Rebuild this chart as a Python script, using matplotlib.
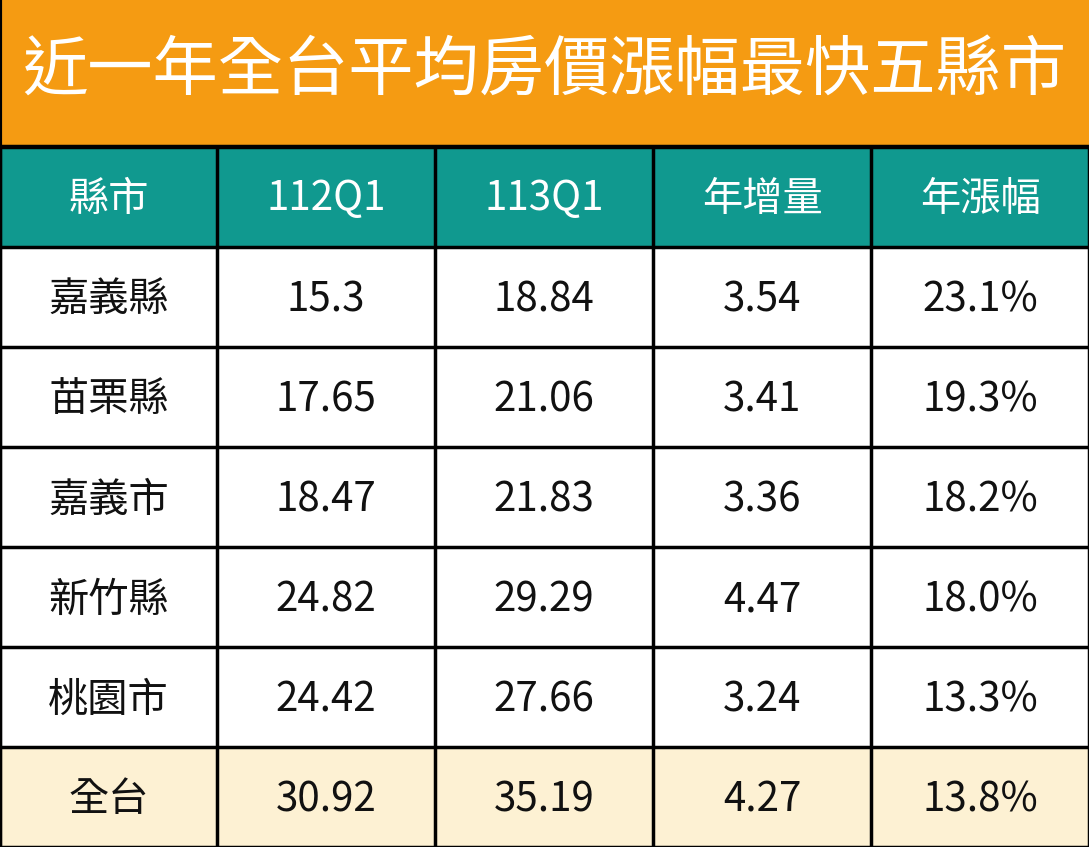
import matplotlib
matplotlib.use("Agg")
import matplotlib.pyplot as plt
from matplotlib.patches import Rectangle

plt.rcParams['font.family'] = ['Noto Sans CJK TC', 'DejaVu Sans']

title = "近一年全台平均房價漲幅最快五縣市"
headers = ["縣市", "112Q1", "113Q1", "年增量", "年漲幅"]
cities = ["嘉義縣", "苗栗縣", "嘉義市", "新竹縣", "桃園市", "全台"]
q112 = ["15.3", "17.65", "18.47", "24.82", "24.42", "30.92"]
q113 = ["18.84", "21.06", "21.83", "29.29", "27.66", "35.19"]
increase = ["3.54", "3.41", "3.36", "4.47", "3.24", "4.27"]
growth = ["23.1%", "19.3%", "18.2%", "18.0%", "13.3%", "13.8%"]

W, H = 1089, 847
fig = plt.figure(figsize=(W / 100, H / 100), dpi=100)
ax = fig.add_axes([0, 0, 1, 1])
ax.set_xlim(0, W)
ax.set_ylim(H, 0)
ax.axis("off")

col_x = [0, 217, 435, 653, 871, 1089]
title_h = 146
row_h = 100
header_top = 147

# title band
ax.add_patch(Rectangle((0, 0), W, title_h, color="#F59B12", lw=0))
ax.text(W / 2, 72, title, color="white", fontsize=47, ha="center", va="center",
        fontweight="medium")

# header
ax.add_patch(Rectangle((0, header_top), W, row_h, color="#10998F", lw=0))
for i, h in enumerate(headers):
    ax.text((col_x[i] + col_x[i + 1]) / 2, header_top + row_h / 2 + 2, h,
            color="white", fontsize=29, ha="center", va="center")

rows = list(zip(cities, q112, q113, increase, growth))
for r, vals in enumerate(rows):
    top = header_top + row_h * (r + 1)
    bg = "#FDF1D3" if r == len(rows) - 1 else "white"
    ax.add_patch(Rectangle((0, top), W, row_h, color=bg, lw=0))
    for i, v in enumerate(vals):
        ax.text((col_x[i] + col_x[i + 1]) / 2, top + row_h / 2 + 3, v,
                color="#111111", fontsize=29, ha="center", va="center")

# grid lines
bottom = header_top + row_h * (len(rows) + 1)
for x in col_x:
    ax.plot([x, x], [header_top, bottom], color="black", lw=2.5)
for r in range(len(rows) + 2):
    y = header_top + row_h * r
    ax.plot([0, W], [y, y], color="black", lw=2.5)
ax.plot([0, 0], [0, H], color="black", lw=3)
ax.plot([0, W], [title_h, title_h], color="black", lw=2.5)

fig.savefig("out.png", dpi=100)
